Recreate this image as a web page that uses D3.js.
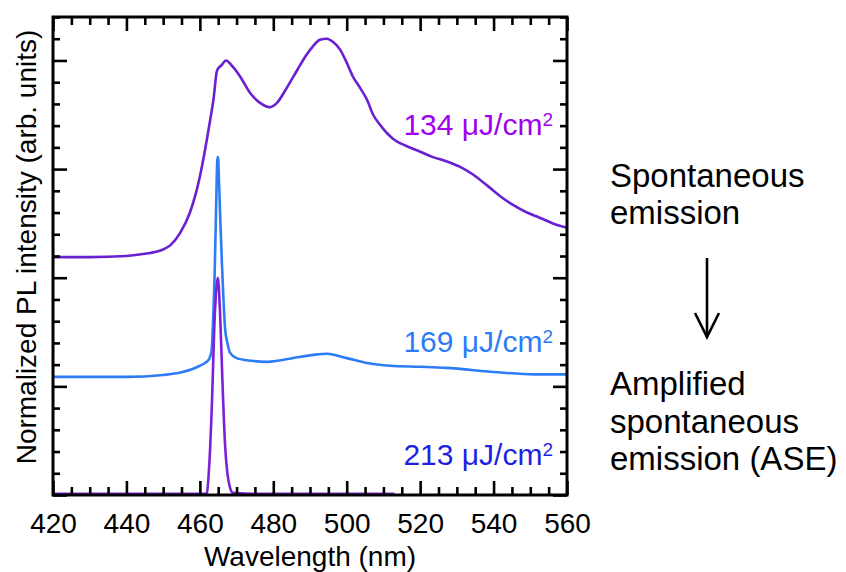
<!DOCTYPE html>
<html>
<head>
<meta charset="utf-8">
<script src="https://cdn.jsdelivr.net/npm/d3@7"></script>
<style>
  html, body { margin: 0; padding: 0; background: #fff; }
  svg { display: block; font-family: "Liberation Sans", Arial, sans-serif; }
</style>
</head>
<body>
<svg id="chart" width="846" height="572"></svg>
<script>
// ---------- data ----------
// Spectrum at 134 uJ/cm2 (offset trace, top)
const wl134 = [420, 430, 440, 445, 450, 452, 454.6, 457.3, 460, 461.9, 462.8, 463.7, 464.7, 466, 467.1, 469, 471, 473.7, 476.4, 479, 481, 483.7, 486.5, 489, 490.8, 492.7, 494.6, 496.3, 498.2, 500, 501.7, 503.6, 505.5, 507.2, 509, 511, 512.6, 516.4, 520, 523.5, 527.3, 530.9, 534.4, 538.2, 541.8, 545.3, 549.1, 552.7, 556.2, 560];
const int134 = [2.19, 2.19, 2.20, 2.22, 2.26, 2.30, 2.41, 2.60, 2.93, 3.27, 3.45, 3.64, 3.91, 3.96, 4.00, 3.94, 3.85, 3.70, 3.61, 3.57, 3.61, 3.75, 3.91, 4.05, 4.13, 4.19, 4.20, 4.17, 4.10, 3.98, 3.85, 3.75, 3.64, 3.50, 3.41, 3.33, 3.28, 3.21, 3.16, 3.11, 3.07, 3.02, 2.95, 2.85, 2.75, 2.67, 2.60, 2.55, 2.50, 2.46];

// Spectrum at 169 uJ/cm2 (offset trace, middle)
const wl169 = [420, 440, 450, 455, 458, 460, 461.4, 462.5, 463.2, 463.6, 464.0, 464.4, 464.75, 464.95, 465.2, 465.6, 466.0, 466.5, 466.9, 467.5, 468.2, 470, 474, 478, 482, 487, 491, 494.6, 500, 505.5, 511.8, 520, 527, 541, 551, 560];
const int169 = [1.087, 1.087, 1.105, 1.13, 1.16, 1.19, 1.215, 1.25, 1.33, 1.60, 2.00, 2.60, 3.08, 3.11, 2.90, 2.50, 2.14, 1.75, 1.52, 1.40, 1.31, 1.26, 1.235, 1.225, 1.24, 1.27, 1.29, 1.30, 1.26, 1.215, 1.19, 1.18, 1.17, 1.13, 1.11, 1.11];

// Spectrum at 213 uJ/cm2 (bottom trace, ASE)
const wl213 = [420, 440, 455, 461.4, 461.9, 462.6, 463.2, 464.1, 464.9, 465.5, 466.2, 466.9, 467.5, 468.2, 469, 475, 490, 505, 513];
const int213 = [0.01, 0.01, 0.01, 0.01, 0.02, 0.30, 0.76, 1.68, 2.00, 1.68, 1.00, 0.44, 0.20, 0.07, 0.02, 0.01, 0.01, 0.01, 0.01];

const xMajorTicks = [420, 440, 460, 480, 500, 520, 540, 560];
const xMinorTicks = d3.range(420, 561, 5).filter(v => v % 20 !== 0);
const yMajorTicks = [0, 1, 2, 3, 4];
const yMinorTicks = d3.range(0, 4.41, 0.2).map(v => +v.toFixed(1)).filter(v => Math.abs(v - Math.round(v)) > 1e-6);

const fluences = ["134", "169", "213"];
const sideTextTop = ["Spontaneous", "emission"];
const sideTextBottom = ["Amplified", "spontaneous", "emission (ASE)"];

// ---------- layout ----------
const svg = d3.select("#chart");
const L = 53, R = 567, T = 17, B = 495;
const x = d3.scaleLinear().domain([420, 560]).range([L, R]);
const y = d3.scaleLinear().domain([0, 4.4]).range([B, T]);

svg.append("rect").attr("width", 846).attr("height", 572).attr("fill", "#fff");

svg.append("clipPath").attr("id", "plotclip")
  .append("rect").attr("x", L).attr("y", T).attr("width", R - L).attr("height", B - T);

// ---------- traces ----------
const line = d3.line().x(d => x(d[0])).y(d => y(d[1])).curve(d3.curveMonotoneX);
const traces = [
  { wl: wl134, v: int134, color: "#6a1fd3" },
  { wl: wl169, v: int169, color: "#2d7cf5" },
  { wl: wl213, v: int213, color: "#7b22d8" }
];
const g = svg.append("g").attr("clip-path", "url(#plotclip)");
traces.forEach(t => {
  g.append("path")
    .datum(t.wl.map((w, i) => [w, t.v[i]]))
    .attr("d", line)
    .attr("fill", "none")
    .attr("stroke", t.color)
    .attr("stroke-width", 2.6)
    .attr("stroke-linejoin", "round");
});

// ---------- axes ----------
function styleAxis(sel) {
  sel.select(".domain").remove();
  sel.selectAll(".tick line").attr("stroke", "#000").attr("stroke-width", 2.6);
}
const tickFont = 28;
const xb = svg.append("g").attr("transform", `translate(0,${B})`)
  .call(d3.axisBottom(x).tickValues(xMajorTicks).tickSize(-14).tickPadding(18).tickFormat(d3.format("d")));
styleAxis(xb);
xb.selectAll("text").attr("font-size", tickFont).attr("fill", "#000")
  .attr("font-family", "'Liberation Sans', Arial, sans-serif");
svg.append("g").attr("transform", `translate(0,${B})`)
  .call(d3.axisBottom(x).tickValues(xMinorTicks).tickSize(-8).tickFormat("")).call(styleAxis);
svg.append("g").attr("transform", `translate(0,${T})`)
  .call(d3.axisTop(x).tickValues(xMajorTicks).tickSize(-14).tickFormat("")).call(styleAxis);
svg.append("g").attr("transform", `translate(0,${T})`)
  .call(d3.axisTop(x).tickValues(xMinorTicks).tickSize(-8).tickFormat("")).call(styleAxis);
svg.append("g").attr("transform", `translate(${L},0)`)
  .call(d3.axisLeft(y).tickValues(yMajorTicks).tickSize(-14).tickFormat("")).call(styleAxis);
svg.append("g").attr("transform", `translate(${L},0)`)
  .call(d3.axisLeft(y).tickValues(yMinorTicks).tickSize(-7).tickFormat("")).call(styleAxis);
svg.append("g").attr("transform", `translate(${R},0)`)
  .call(d3.axisRight(y).tickValues(yMajorTicks).tickSize(-14).tickFormat("")).call(styleAxis);
svg.append("g").attr("transform", `translate(${R},0)`)
  .call(d3.axisRight(y).tickValues(yMinorTicks).tickSize(-7).tickFormat("")).call(styleAxis);

svg.append("rect").attr("x", L).attr("y", T).attr("width", R - L).attr("height", B - T)
  .attr("fill", "none").attr("stroke", "#000").attr("stroke-width", 3);

// ---------- axis titles ----------
svg.append("text").attr("x", (L + R) / 2).attr("y", 566).attr("text-anchor", "middle")
  .attr("font-size", 28).attr("fill", "#000").text("Wavelength (nm)");
svg.append("text").attr("transform", `translate(36,247) rotate(-90)`).attr("text-anchor", "middle")
  .attr("font-size", 28).attr("fill", "#000").text("Normalized PL intensity (arb. units)");

// ---------- trace labels ----------
const labelInfo = [
  { yv: 3.315, color: "#a000f0" },
  { yv: 1.317, color: "#2d7cf5" },
  { yv: 0.276, color: "#1f1fe6" }
];
labelInfo.forEach((d, i) => {
  const t = svg.append("text").attr("x", 553).attr("y", y(d.yv)).attr("text-anchor", "end")
    .attr("font-size", 30).attr("fill", d.color);
  t.append("tspan").text(fluences[i] + " \u03bcJ/cm");
  t.append("tspan").attr("font-size", 19).attr("dy", -9).text("2");
});

// ---------- side annotation ----------
const side = svg.append("g").attr("font-size", 33).attr("fill", "#000");
sideTextTop.forEach((s, i) => side.append("text").attr("x", 610).attr("y", 187 + i * 36.5).text(s));
sideTextBottom.forEach((s, i) => side.append("text").attr("x", 610).attr("y", 395 + i * 37.5).text(s));
svg.append("line").attr("x1", 707).attr("x2", 707).attr("y1", 258).attr("y2", 336)
  .attr("stroke", "#000").attr("stroke-width", 2.6);
svg.append("path").attr("d", "M695,313 L707,337 L719,313")
  .attr("fill", "none").attr("stroke", "#000").attr("stroke-width", 2.6);
</script>
</body>
</html>
